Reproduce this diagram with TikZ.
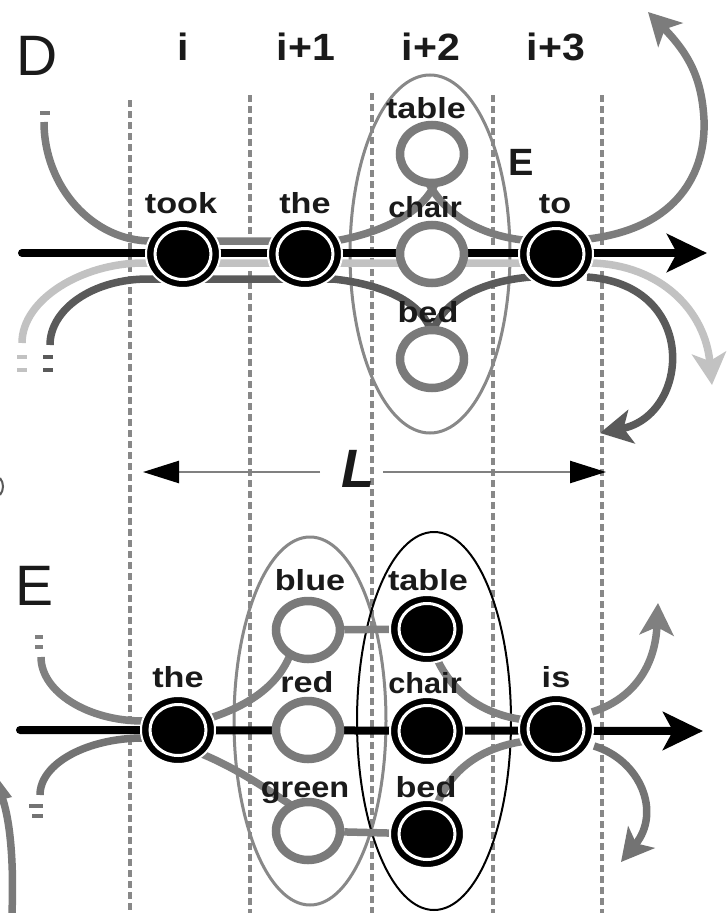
\documentclass[tikz,border=0pt]{standalone}
\usepackage{fontspec}
\usepackage{graphicx}
\setmainfont{Liberation Sans}
\usetikzlibrary{shapes.geometric,arrows.meta,calc}

\definecolor{ink}{HTML}{1A1A1A}
\definecolor{ringgray}{HTML}{7A7A7A}
\definecolor{pathmid}{HTML}{7C7C7C}
\definecolor{pathlight}{HTML}{C2C2C2}
\definecolor{pathdark}{HTML}{5A5A5A}
\definecolor{linkgray}{HTML}{808080}
\definecolor{gridgray}{HTML}{888888}

\newcommand\widen[2][1.18]{\scalebox{#1}[1]{#2}}

\pgfdeclarelayer{gridlayer}
\pgfdeclarelayer{linklayer}
\pgfsetlayers{gridlayer,linklayer,main}

\begin{document}
\begin{tikzpicture}[x=1pt,y=-1pt,
  wordnode/.style={ellipse, fill=black, draw=white, line width=2pt,
    minimum width=74pt, minimum height=68pt, inner sep=0pt,
    path picture={\draw[white,line width=3pt] (path picture bounding box.center)
      ellipse [x radius=28pt, y radius=25.5pt];}},
  altnode/.style={ellipse, fill=white, draw=ringgray, line width=8.5pt,
    minimum width=64pt, minimum height=58pt, inner sep=0pt},
  word/.style={font=\fontsize{29}{29}\selectfont\bfseries, text=ink, anchor=base, inner sep=0pt},
  colhead/.style={font=\fontsize{38}{38}\selectfont\bfseries, text=ink, anchor=base, inner sep=0pt},
  panel/.style={font=\fontsize{57}{57}\selectfont, text=ink, anchor=base, inner sep=0pt},
  gridline/.style={draw=gridgray, line width=4pt, dash pattern=on 6.5pt off 4.5pt},
  group/.style={ellipse, draw=gridgray, line width=3pt, inner sep=0pt},
  band/.style={line width=7.5pt},
  mainline/.style={draw=black, line width=8pt, line cap=round,
    -{Stealth[length=40pt,width=38pt,inset=10pt]}},
  graytip/.style={-{Stealth[length=32pt,width=34pt,inset=8pt]}},
  lenarrow/.style={draw=linkgray, line width=2.5pt,
    -{Triangle[length=36pt,width=22pt,color=black]}},
  tick/.style={line width=3.5pt}
]
\useasboundingbox (0,0) rectangle (726,913);

% ---------------- word nodes, panel D ----------------
\node[wordnode] (took)   at (183,254) {};
\node[wordnode] (the)    at (305,254) {};
\node[altnode]  (tableD) at (432,154) {};
\node[altnode]  (chairD) at (432,254) {};
\node[altnode]  (bedD)   at (432,359) {};
\node[wordnode] (to)     at (556,254) {};

% ---------------- word nodes, panel E ----------------
\node[wordnode] (theE)   at (178,730) {};
\node[altnode]  (blue)   at (308,630) {};
\node[altnode]  (red)    at (308,730) {};
\node[altnode]  (green)  at (308,831) {};
\node[wordnode] (tableE) at (427,629) {};
\node[wordnode] (chairE) at (427,731) {};
\node[wordnode] (bedE)   at (427,834) {};
\node[wordnode] (is)     at (556,729) {};

% ---------------- labels ----------------
\node[panel]   (labD) at (37,75)  {D};
\node[panel]   (labE) at (35,605) {E};
\node[colhead] (c0) at (183,60) {\widen[1.08]{i}};
\node[colhead] (c1) at (306,60) {\widen[1.08]{i+1}};
\node[colhead] (c2) at (431,60) {\widen[1.08]{i+2}};
\node[colhead] (c3) at (556,60) {\widen[1.08]{i+3}};
\node[colhead] (setE) at (521,175) {E};

\node[word] (wtook)   at (181,213) {\widen{took}};
\node[word] (wthe)    at (305,213) {\widen{the}};
\node[word] (wtableD) at (426,118) {\widen{table}};
\node[word] (wchairD) at (425,217) {\widen[1.06]{chair}};
\node[word] (wbedD)   at (428,322) {\widen{bed}};
\node[word] (wto)     at (555,213) {\widen{to}};

\node[word] (wtheE)   at (178,687) {\widen{the}};
\node[word] (wblue)   at (310,590) {\widen{blue}};
\node[word] (wred)    at (307,692) {\widen{red}};
\node[word] (wgreen)  at (305,797) {\widen[1.12]{green}};
\node[word] (wtableE) at (428,590) {\widen{table}};
\node[word] (wchairE) at (425,693) {\widen[1.06]{chair}};
\node[word] (wbedE)   at (426,797) {\widen{bed}};
\node[word] (wis)     at (556,687) {\widen{is}};

% window length
\node[font=\fontsize{54}{54}\selectfont\bfseries\itshape, text=ink, anchor=base, inner sep=0pt]
  (len) at (358,487) {L};
\coordinate (lenA) at (320,472);
\coordinate (lenB) at (383,472);
\coordinate (lenL) at (143,472);
\coordinate (lenR) at (606,472);
\draw[lenarrow] (lenA) -- (lenL);
\draw[lenarrow] (lenB) -- (lenR);

% ---------------- grid and grouping ellipses ----------------
\begin{pgfonlayer}{gridlayer}
  \fill[white] (0,0) rectangle (726,913);
  \foreach \gx/\gy in {130/100, 250/95, 372/93, 493/95, 602/95}
    \draw[gridline] (\gx,\gy) -- (\gx,913);
  \node[group, minimum width=160pt, minimum height=358pt] (grpD) at (430,254) {};
  \node[group, minimum width=152pt, minimum height=368pt] (grpE1) at (310,721) {};
  \node[group, draw=black, line width=2pt, minimum width=154pt, minimum height=378pt]
    (grpE2) at (434,721) {};
\end{pgfonlayer}

% ---------------- connectors ----------------
\begin{pgfonlayer}{linklayer}
  % panel D
  \coordinate (inD)   at (22,253);
  \coordinate (outD)  at (707,253);
  \coordinate (midD)  at (44,122);
  \coordinate (liteD) at (22,343);
  \coordinate (darkD) at (50,345);
  \coordinate (upD)   at (648,12);
  \coordinate (liteEnd) at (712,385);
  \coordinate (darkEnd) at (600,433);

  \draw[pathmid, tick] (40,113) -- (50,113);
  \draw[pathlight, tick] (17,357) -- (27,357) (17,370) -- (27,370);
  \draw[pathdark, tick] (43,357) -- (53,357) (43,370) -- (53,370);

  \draw[pathlight, band] (liteD) .. controls +(0,-44) and +(-60,0) .. ($(took)+(-40,9)$)
     -- ($(to)+(36,9)$);
  \draw[pathlight, band, graytip] ($(to)+(36,9)$) .. controls (660,265) and (705,310) .. (liteEnd);

  \draw[pathdark, band] (darkD) .. controls +(0,-36) and +(-55,0) .. ($(took)+(-35,25)$)
     -- ($(the)+(28,25)$) .. controls (380,284) and (418,300) .. ($(bedD)+(-2,-31)$);
  \draw[pathdark, band] ($(bedD)+(2,-31)$) .. controls (446,300) and (482,281) .. ($(to)+(-25,23)$);
  \draw[pathdark, band, graytip] ($(to)+(31,23)$) .. controls (700,285) and (690,415) .. (darkEnd);

  \draw[pathmid, band] (midD) .. controls +(0,65) and +(-58,0) .. ($(took)+(-32,-13)$)
     -- ($(the)+(30,-13)$) .. controls (385,232) and (422,212) .. ($(tableD)+(3,30)$);
  \draw[pathmid, band] ($(tableD)+(-3,30)$) .. controls (446,215) and (482,238) .. ($(to)+(-22,-13)$);
  \draw[pathmid, band, graytip] ($(to)+(32,-15)$) .. controls (680,228) and (706,170) .. (704,120)
     .. controls (702,80) and (690,55) .. (upD);

  \draw[mainline] (inD) -- (outD);

  % panel E
  \coordinate (inE)  at (20,730);
  \coordinate (outE) at (703,731);
  \coordinate (topE) at (41,657);
  \coordinate (lowE) at (40,795);
  \coordinate (upE)  at (658,603);
  \coordinate (downE) at (621,862);

  \draw[linkgray, tick] (35,637) -- (43,637) (35,647) -- (43,647);
  \draw[pathdark!85!white, tick] (29,806) -- (43,806) (32,816) -- (43,816);

  \draw[linkgray, band] (topE) .. controls +(0,35) and +(-55,0) .. ($(theE)+(-35,-9)$);
  \draw[pathdark!85!white, band] (lowE) .. controls +(0,-32) and +(-55,0) .. ($(theE)+(-35,8)$);

  \draw[linkgray, band] ($(theE)+(32,-12)$) .. controls (250,705) and (278,685) .. ($(blue)+(-18,25)$);
  \draw[linkgray, band] ($(theE)+(24,24)$) .. controls (240,770) and (268,790) .. ($(green)+(-14,-24)$);
  \draw[linkgray, band] (blue) -- (tableE);
  \draw[linkgray, band] (green) -- (bedE);
  \draw[linkgray, band] ($(tableE)+(10,30)$) .. controls (455,698) and (490,716) .. ($(is)+(-30,-9)$);
  \draw[linkgray, band] ($(bedE)+(10,-30)$) .. controls (455,762) and (490,746) .. ($(is)+(-30,12)$);
  \draw[linkgray, band, graytip] ($(is)+(36,-17)$) .. controls (630,700) and (655,670) .. (upE);
  \draw[pathdark!85!white, band, graytip] ($(is)+(38,17)$) .. controls (640,760) and (662,812) .. (downE);

  \draw[mainline] (inE) -- (outE);

  % pieces of neighbouring panels at the left edge
  \draw[pathdark, line width=2pt] (0,478) .. controls (4,483) and (4,490) .. (0,495);
  \draw[ringgray, band] (0,792) .. controls (10,815) and (14,860) .. (12,913);
  \fill[ringgray] (0,781) -- (12,797) -- (0,800) -- cycle;
\end{pgfonlayer}
\end{tikzpicture}
\end{document}
